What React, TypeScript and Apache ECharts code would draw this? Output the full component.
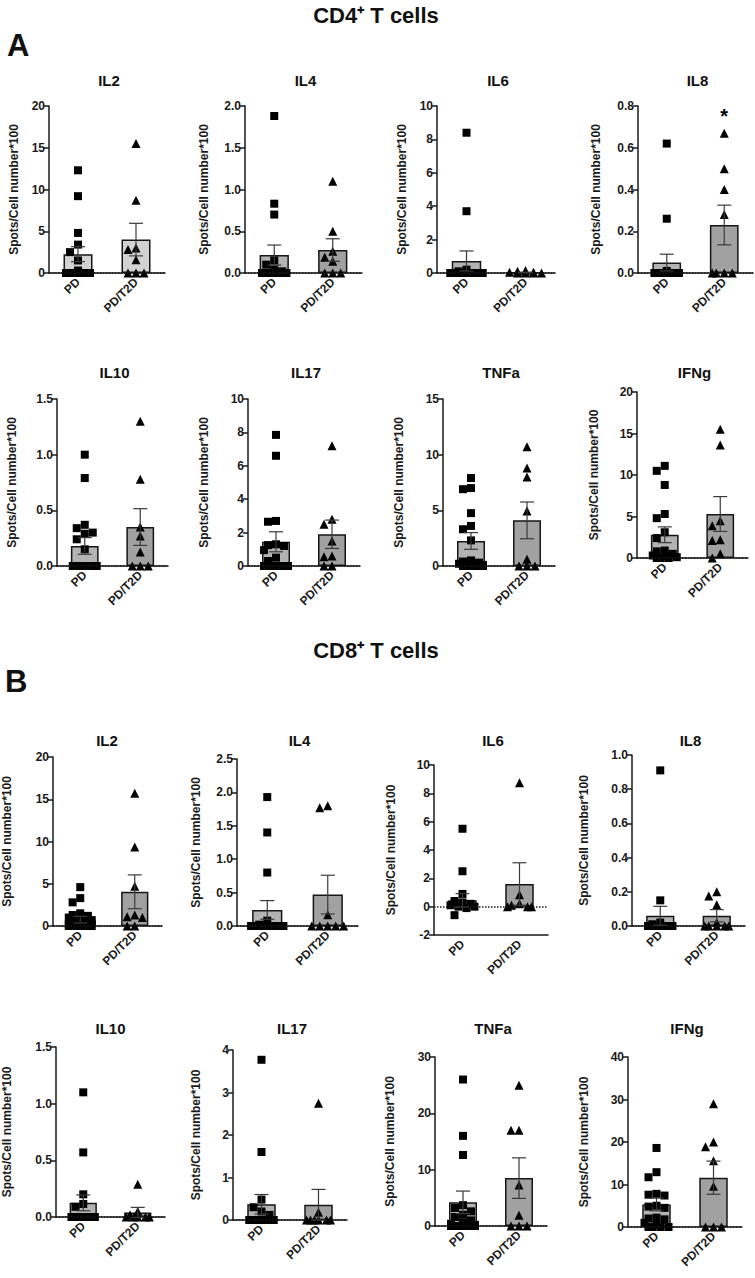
import React, { useEffect, useRef } from "react";
import * as echarts from "echarts";

// ---------- data ----------
const cytokines = ["IL2", "IL4", "IL6", "IL8", "IL10", "IL17", "TNFa", "IFNg"];
const groups = ["PD", "PD/T2D"];

// CD4+ T cells (Spots/Cell number*100)
const cd4IL2PD = [12.3, 9.2, 4.8, 3.4, 2.5, 1.5, 0.3, 0, 0, 0, 0, 0, 0, 0, 0];
const cd4IL2T2D = [15.5, 8.7, 3.0, 2.8, 1.6, 0, 0, 0];
const cd4IL4PD = [1.88, 0.83, 0.7, 0.15, 0.1, 0.04, 0.02, 0, 0, 0, 0, 0, 0, 0, 0];
const cd4IL4T2D = [1.1, 0.5, 0.26, 0.19, 0.14, 0, 0, 0];
const cd4IL6PD = [8.4, 3.7, 0.2, 0.1, 0, 0, 0, 0, 0, 0, 0, 0, 0, 0, 0];
const cd4IL6T2D = [0.15, 0.1, 0.05, 0.05, 0, 0, 0, 0];
const cd4IL8PD = [0.62, 0.26, 0.01, 0, 0, 0, 0, 0, 0, 0, 0, 0, 0, 0, 0];
const cd4IL8T2D = [0.67, 0.5, 0.4, 0.28, 0, 0, 0, 0];
const cd4IL10PD = [1.0, 0.79, 0.37, 0.34, 0.3, 0.29, 0.24, 0.15, 0, 0, 0, 0, 0, 0, 0, 0];
const cd4IL10T2D = [1.3, 0.78, 0.35, 0.27, 0.125, 0, 0, 0];
const cd4IL17PD = [7.85, 6.6, 2.7, 2.65, 1.3, 1.25, 1.2, 0.95, 0.5, 0.3, 0, 0, 0, 0, 0, 0];
const cd4IL17T2D = [7.2, 2.8, 2.5, 1.5, 0.6, 0.55, 0, 0];
const cd4TNFaPD = [7.9, 7.0, 6.9, 4.75, 3.6, 3.3, 2.3, 0.5, 0.4, 0.3, 0.2, 0.1, 0, 0, 0, 0];
const cd4TNFaT2D = [10.7, 8.8, 8.0, 4.95, 0.6, 0, 0, 0];
const cd4IFNgPD = [11.1, 10.5, 8.8, 5.3, 4.8, 3.1, 2.4, 0.9, 0.8, 0.5, 0.3, 0.2, 0.1, 0, 0, 0];
const cd4IFNgT2D = [15.5, 13.6, 4.5, 3.9, 2.2, 2.1, 0.5, 0];

const cd4MeanPD = [2.25, 0.215, 0.72, 0.05, 0.18, 1.45, 2.25, 2.8];
const cd4SemPD = [0.9, 0.12, 0.6, 0.04, 0.075, 0.6, 0.75, 0.95];
const cd4MeanT2D = [4.0, 0.275, 0.03, 0.23, 0.35, 1.9, 4.1, 5.3];
const cd4SemT2D = [1.95, 0.135, 0.02, 0.095, 0.165, 0.85, 1.65, 2.1];
const cd4YMin = [0, 0, 0, 0, 0, 0, 0, 0];
const cd4YMax = [20, 2, 10, 0.8, 1.5, 10, 15, 20];
const cd4YStep = [5, 0.5, 2, 0.2, 0.5, 2, 5, 5];

// CD8+ T cells
const cd8IL2PD = [4.6, 3.3, 2.8, 1.5, 1.3, 1.2, 1.0, 0.8, 0.7, 0.5, 0.4, 0.3, 0.2, 0.1, 0, 0, 0, 0];
const cd8IL2T2D = [15.7, 9.35, 4.7, 1.3, 1.1, 1.0, 0, 0];
const cd8IL4PD = [1.93, 1.4, 0.8, 0.08, 0.02, 0, 0, 0, 0, 0, 0, 0, 0, 0, 0, 0];
const cd8IL4T2D = [1.8, 1.77, 0.17, 0, 0, 0, 0, 0];
const cd8IL6PD = [5.5, 2.5, 0.9, 0.4, 0.3, 0.2, 0.1, 0, 0, -0.1, -0.6];
const cd8IL6T2D = [8.75, 0.85, 0.2, 0.1, 0, 0, 0];
const cd8IL8PD = [0.91, 0.15, 0.02, 0.01, 0, 0, 0, 0, 0, 0, 0, 0, 0, 0, 0];
const cd8IL8T2D = [0.2, 0.175, 0.125, 0.02, 0, 0, 0, 0, 0];
const cd8IL10PD = [1.1, 0.57, 0.2, 0.115, 0.09, 0, 0, 0, 0, 0, 0, 0, 0, 0, 0];
const cd8IL10T2D = [0.29, 0.05, 0.02, 0, 0, 0, 0, 0];
const cd8IL17PD = [3.77, 1.6, 0.48, 0.3, 0.2, 0.12, 0, 0, 0, 0, 0, 0, 0, 0, 0];
const cd8IL17T2D = [2.75, 0.18, 0, 0, 0, 0, 0, 0];
const cd8TNFaPD = [26, 16, 12.6, 3.7, 3.2, 2.6, 2.0, 1.6, 1.0, 0.6, 0.4, 0.2, 0, 0, 0, 0, 0];
const cd8TNFaT2D = [25, 17, 17, 7.3, 1.9, 0, 0, 0];
const cd8IFNgPD = [18.6, 12.9, 11.7, 7.8, 7.6, 7.4, 5.0, 4.8, 4.5, 2.2, 2.0, 1.8, 1.0, 0.5, 0, 0, 0, 0];
const cd8IFNgT2D = [29, 20, 18.9, 15.6, 9.6, 0, 0, 0];

const cd8MeanPD = [0.75, 0.24, 0.45, 0.06, 0.125, 0.37, 4.2, 5.3];
const cd8SemPD = [0.4, 0.14, 0.47, 0.055, 0.07, 0.23, 2.0, 1.5];
const cd8MeanT2D = [4.05, 0.47, 1.6, 0.06, 0.04, 0.36, 8.5, 11.6];
const cd8SemT2D = [2.0, 0.29, 1.5, 0.036, 0.045, 0.36, 3.6, 3.9];
const cd8YMin = [0, 0, -2, 0, 0, 0, 0, 0];
const cd8YMax = [20, 2.5, 10, 1, 1.5, 4, 30, 40];
const cd8YStep = [5, 0.5, 2, 0.2, 0.5, 1, 10, 10];

const significance = [{ section: 0, cytokine: "IL8", group: 1, y: 0.75, mark: "*" }];

// ---------- layout ----------
const FONT = 'Arial, "Liberation Sans", Helvetica, sans-serif';
// [left, top, right, bottom] px of each plot area
const layoutA = [
  [49, 106, 165, 273], [245, 106, 362, 273], [437, 106, 555, 273], [638, 106, 753, 273],
  [57, 399, 168, 566], [248, 399, 360, 566], [443, 399, 555, 566], [637, 392, 748, 558],
];
const layoutB = [
  [48, 757, 162, 926], [237, 759, 358, 926], [434, 765, 548, 935], [632, 755, 745, 926],
  [52, 1047, 165, 1217], [233, 1050, 347, 1220], [435, 1057, 547, 1226], [628, 1057, 742, 1227],
];
const titleRowYA = [80, 372];
const titleRowYB = [740, 1028];
const nameGapA = [29, 35, 29, 36, 39, 38, 38, 37];
const nameGapB = [40, 35, 37, 42, 43, 31, 39, 38];

const MARK = 8;

function spread(values: number[], yMin: number, yMax: number, w: number, h: number) {
  const unitPx = w / 2;
  const yPx = h / (yMax - yMin);
  const order = values.map((_, i) => i).sort((a, b) => values[b] - values[a]);
  const maxOff = 0.27 * unitPx;
  const cands = [0, -1, 1, -2, 2, -0.5, 0.5, -1.5, 1.5]
    .map((k) => k * MARK)
    .filter((c) => Math.abs(c) <= maxOff + 0.1);
  const placed: { x: number; y: number }[] = [];
  const offs = new Array(values.length).fill(0);
  for (const i of order) {
    const y = values[i] * yPx;
    let best = 0;
    let bestScore = Infinity;
    for (const c of cands) {
      let s = 0;
      for (const p of placed) {
        const dx = Math.abs(p.x - c);
        const dy = Math.abs(p.y - y);
        if (dx < MARK && dy < MARK) s += (MARK - dx) * (MARK - dy);
      }
      if (s < bestScore - 1e-9) {
        bestScore = s;
        best = c;
      }
      if (s === 0) break;
    }
    placed.push({ x: best, y });
    offs[i] = best / unitPx;
  }
  return offs;
}

function buildOption() {
  const sections = [
    {
      layout: layoutA, gaps: nameGapA, titleY: titleRowYA,
      pd: [cd4IL2PD, cd4IL4PD, cd4IL6PD, cd4IL8PD, cd4IL10PD, cd4IL17PD, cd4TNFaPD, cd4IFNgPD],
      t2d: [cd4IL2T2D, cd4IL4T2D, cd4IL6T2D, cd4IL8T2D, cd4IL10T2D, cd4IL17T2D, cd4TNFaT2D, cd4IFNgT2D],
      meanPD: cd4MeanPD, semPD: cd4SemPD, meanT2D: cd4MeanT2D, semT2D: cd4SemT2D,
      yMin: cd4YMin, yMax: cd4YMax, yStep: cd4YStep,
    },
    {
      layout: layoutB, gaps: nameGapB, titleY: titleRowYB,
      pd: [cd8IL2PD, cd8IL4PD, cd8IL6PD, cd8IL8PD, cd8IL10PD, cd8IL17PD, cd8TNFaPD, cd8IFNgPD],
      t2d: [cd8IL2T2D, cd8IL4T2D, cd8IL6T2D, cd8IL8T2D, cd8IL10T2D, cd8IL17T2D, cd8TNFaT2D, cd8IFNgT2D],
      meanPD: cd8MeanPD, semPD: cd8SemPD, meanT2D: cd8MeanT2D, semT2D: cd8SemT2D,
      yMin: cd8YMin, yMax: cd8YMax, yStep: cd8YStep,
    },
  ];

  const grid: any[] = [];
  const xAxis: any[] = [];
  const yAxis: any[] = [];
  const series: any[] = [];
  const graphic: any[] = [];

  const txt = (text: string, x: number, y: number, size: number, align = "center") => ({
    type: "text",
    x, y,
    style: {
      text, fill: "#111", fontFamily: FONT, fontWeight: "bold", fontSize: size,
      textAlign: align, textVerticalAlign: "middle",
    },
  });
  graphic.push(txt("CD4⁺ T cells", 376, 15, 22));
  graphic.push(txt("A", 7, 45, 31, "left"));
  graphic.push(txt("CD8⁺ T cells", 376, 650, 22));
  graphic.push(txt("B", 5, 681, 31, "left"));

  sections.forEach((sec, si) => {
    cytokines.forEach((cy, ci) => {
      const g = si * 8 + ci;
      const [l, t, r, b] = sec.layout[ci];
      const w = r - l;
      const h = b - t;
      const yMin = sec.yMin[ci];
      const yMax = sec.yMax[ci];
      const step = sec.yStep[ci];
      grid.push({ left: l, top: t, width: w, height: h, containLabel: false });
      graphic.push(txt(cy, l + w / 2 + 2, sec.titleY[ci < 4 ? 0 : 1], 15));

      xAxis.push({
        type: "category", gridIndex: g, data: groups,
        axisLine: { onZero: false, lineStyle: { color: "#1a1a1a", width: 1.5 } },
        axisTick: { alignWithLabel: true, length: 5, lineStyle: { color: "#1a1a1a", width: 1.5 } },
        axisLabel: { rotate: 45, interval: 0, margin: 7, color: "#1a1a1a", fontFamily: FONT, fontWeight: "bold", fontSize: 12 },
      });
      xAxis.push({ type: "value", gridIndex: g, min: -0.5, max: 1.5, show: false });
      yAxis.push({
        type: "value", gridIndex: g, min: yMin, max: yMax, interval: step,
        name: "Spots/Cell number*100", nameLocation: "middle", nameRotate: 90, nameGap: sec.gaps[ci],
        nameTextStyle: { color: "#1a1a1a", fontFamily: FONT, fontWeight: "bold", fontSize: 12 },
        axisLine: { show: true, onZero: false, lineStyle: { color: "#1a1a1a", width: 1.5 } },
        axisTick: { show: true, length: 5, lineStyle: { color: "#1a1a1a", width: 1.5 } },
        splitLine: { show: false },
        axisLabel: {
          margin: 4, color: "#1a1a1a", fontFamily: FONT, fontWeight: "bold", fontSize: 12,
          formatter: (v: number) => (step < 1 ? v.toFixed(1) : String(Math.round(v))),
        },
      });

      const light = si === 0 && ci === 0;
      series.push({
        type: "bar", xAxisIndex: 2 * g, yAxisIndex: g, barWidth: "50%", z: 2,
        data: [
          { value: sec.meanPD[ci], itemStyle: { color: light ? "#d2d2d2" : "#b3b3b3" } },
          { value: sec.meanT2D[ci], itemStyle: { color: light ? "#d2d2d2" : "#a1a1a1" } },
        ],
        itemStyle: { borderColor: "#161616", borderWidth: 1.5 },
        markLine: {
          silent: true, symbol: "none", label: { show: false },
          lineStyle: { type: "dotted", color: "#1a1a1a", width: 1.5 },
          data: [{ yAxis: 0 }],
        },
      });

      const pdVals = sec.pd[ci];
      const t2Vals = sec.t2d[ci];
      const pdOff = spread(pdVals, yMin, yMax, w, h);
      const t2Off = spread(t2Vals, yMin, yMax, w, h);
      series.push({
        type: "scatter", xAxisIndex: 2 * g + 1, yAxisIndex: g, symbol: "rect", symbolSize: MARK, z: 4,
        itemStyle: { color: "#000", opacity: 1 },
        data: pdVals.map((v, i) => [0 + pdOff[i], v]),
      });
      series.push({
        type: "scatter", xAxisIndex: 2 * g + 1, yAxisIndex: g, symbol: "triangle", symbolSize: MARK + 1, z: 4,
        itemStyle: { color: "#000", opacity: 1 },
        data: t2Vals.map((v, i) => [1 + t2Off[i], v]),
      });
      series.push({
        type: "custom", xAxisIndex: 2 * g + 1, yAxisIndex: g, z: 5,
        data: [
          [0, sec.meanPD[ci], sec.semPD[ci]],
          [1, sec.meanT2D[ci], sec.semT2D[ci]],
        ],
        renderItem: (params: any, api: any) => {
          const x = api.value(0);
          const m = api.value(1);
          const s = api.value(2);
          const top = api.coord([x, m + s]);
          const bot = api.coord([x, m - s]);
          const cw = 7;
          const st = { stroke: "#3a3a3a", lineWidth: 1.2 };
          return {
            type: "group",
            children: [
              { type: "line", shape: { x1: top[0], y1: top[1], x2: bot[0], y2: bot[1] }, style: st },
              { type: "line", shape: { x1: top[0] - cw, y1: top[1], x2: top[0] + cw, y2: top[1] }, style: st },
              { type: "line", shape: { x1: bot[0] - cw, y1: bot[1], x2: bot[0] + cw, y2: bot[1] }, style: st },
            ],
          };
        },
      });

      significance
        .filter((sg) => sg.section === si && sg.cytokine === cy)
        .forEach((sg) => {
          series.push({
            type: "scatter", xAxisIndex: 2 * g + 1, yAxisIndex: g, symbolSize: 0, z: 6,
            itemStyle: { color: "#000", opacity: 1 },
            label: {
              show: true, position: "inside", formatter: sg.mark, color: "#000",
              fontFamily: FONT, fontWeight: "bold", fontSize: 20,
            },
            data: [[sg.group, sg.y]],
          });
        });
    });
  });

  return { animation: false, backgroundColor: "#ffffff", grid, xAxis, yAxis, series, graphic };
}

export default function App() {
  const ref = useRef<HTMLDivElement>(null);
  useEffect(() => {
    if (!ref.current) return;
    const chart = echarts.init(ref.current, null, { renderer: "svg", width: 755, height: 1278 });
    chart.setOption(buildOption() as any);
    return () => chart.dispose();
  }, []);
  return (
    <div
      ref={ref}
      style={{ position: "absolute", left: 0, top: 0, width: 755, height: 1278, background: "#fff" }}
    />
  );
}
